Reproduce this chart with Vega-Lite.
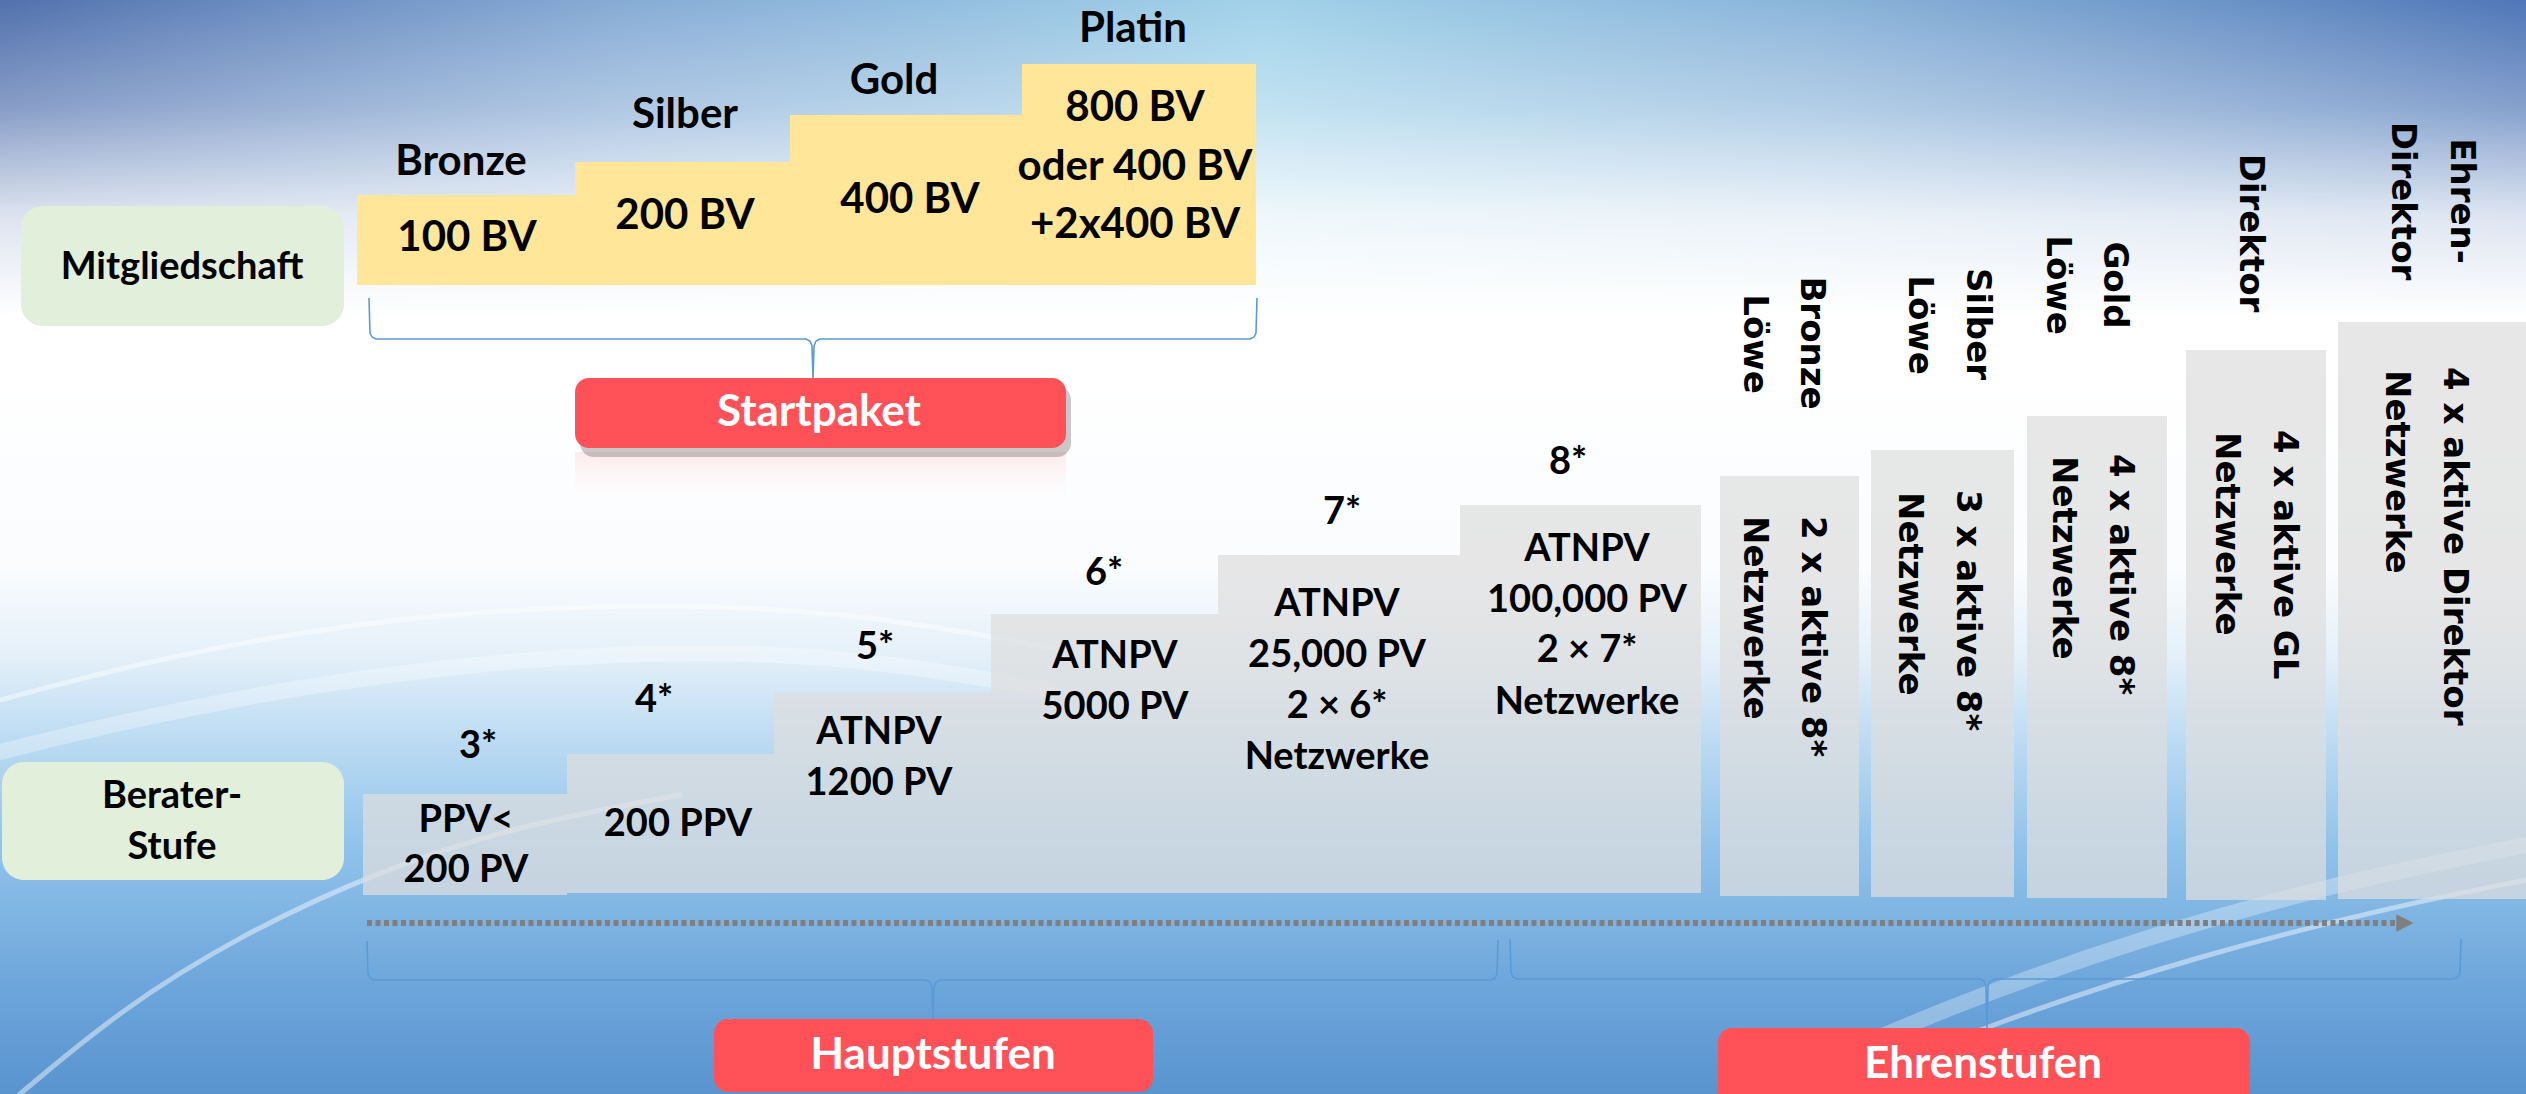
{
"$schema":"https://vega.github.io/schema/vega-lite/v6.json",
"width":2526,"height":1094,"autosize":"none","padding":0,
"background":"#ffffff",
"config":{"view":{"stroke":null},"axis":{"disable":true}},
"datasets":{
"hintergrund":[{"x":0,"x2":2526,"y":0,"y2":1094}],
"oben":[{"x":0,"x2":2526,"y":0,"y2":360}],
"boegen":[
{"k":"breit","b":"A","i":0,"x":0,"y":752},{"k":"breit","b":"A","i":1,"x":120,"y":722},{"k":"breit","b":"A","i":2,"x":300,"y":686},{"k":"breit","b":"A","i":3,"x":500,"y":660},{"k":"breit","b":"A","i":4,"x":700,"y":650},{"k":"breit","b":"A","i":5,"x":880,"y":660},{"k":"breit","b":"A","i":6,"x":1050,"y":690},
{"k":"breit","b":"D","i":0,"x":1750,"y":1094},{"k":"breit","b":"D","i":1,"x":1950,"y":1005},{"k":"breit","b":"D","i":2,"x":2150,"y":935},{"k":"breit","b":"D","i":3,"x":2350,"y":880},{"k":"breit","b":"D","i":4,"x":2526,"y":845},
{"k":"duenn","b":"B","i":0,"x":20,"y":1094},{"k":"duenn","b":"B","i":1,"x":120,"y":1010},{"k":"duenn","b":"B","i":2,"x":240,"y":935},{"k":"duenn","b":"B","i":3,"x":380,"y":870},{"k":"duenn","b":"B","i":4,"x":520,"y":825},{"k":"duenn","b":"B","i":5,"x":680,"y":795},
{"k":"duenn","b":"C","i":0,"x":0,"y":700},{"k":"duenn","b":"C","i":1,"x":150,"y":660},{"k":"duenn","b":"C","i":2,"x":350,"y":622},{"k":"duenn","b":"C","i":3,"x":600,"y":602},{"k":"duenn","b":"C","i":4,"x":850,"y":610},{"k":"duenn","b":"C","i":5,"x":1060,"y":650},
{"k":"duenn","b":"E","i":0,"x":1820,"y":1094},{"k":"duenn","b":"E","i":1,"x":2000,"y":1020},{"k":"duenn","b":"E","i":2,"x":2200,"y":955},{"k":"duenn","b":"E","i":3,"x":2400,"y":905},{"k":"duenn","b":"E","i":4,"x":2526,"y":880}],
"seitenboxen":[{"name":"Mitgliedschaft","x":21,"x2":344,"y":206,"y2":326},{"name":"Berater-Stufe","x":2,"x2":344,"y":762,"y2":880}],
"mitgliedschaft":[
{"stufe":"Bronze","x":357,"x2":575,"y":195,"y2":285},
{"stufe":"Silber","x":575,"x2":790,"y":162,"y2":285},
{"stufe":"Gold","x":790,"x2":1022,"y":115,"y2":285},
{"stufe":"Platin","x":1022,"x2":1256,"y":64,"y2":285}],
"schatten":[{"x":580,"x2":1071,"y":386,"y2":457}],
"spiegel":[{"x":575,"x2":1066,"y":452,"y2":505}],
"rote":[
{"name":"Startpaket","x":575,"x2":1066,"y":378,"y2":448},
{"name":"Hauptstufen","x":714,"x2":1153,"y":1019,"y2":1092},
{"name":"Ehrenstufen","x":1718,"x2":2250,"y":1028,"y2":1110}],
"stufen":[
{"stufe":"3*","x":363,"x2":567,"y":794,"y2":895},
{"stufe":"4*","x":567,"x2":774,"y":754,"y2":893},
{"stufe":"5*","x":774,"x2":991,"y":693,"y2":893},
{"stufe":"6*","x":991,"x2":1218,"y":614,"y2":893},
{"stufe":"7*","x":1218,"x2":1460,"y":555,"y2":893},
{"stufe":"8*","x":1460,"x2":1701,"y":505,"y2":893},
{"stufe":"Bronze Löwe","x":1720,"x2":1859,"y":476,"y2":896},
{"stufe":"Silber Löwe","x":1871,"x2":2014,"y":450,"y2":897},
{"stufe":"Gold Löwe","x":2027,"x2":2167,"y":416,"y2":898},
{"stufe":"Direktor","x":2186,"x2":2326,"y":350,"y2":900},
{"stufe":"Ehren-Direktor","x":2338,"x2":2526,"y":322,"y2":899}],
"pfeil":[{"k":"a","i":0,"x":367,"y":923},{"k":"a","i":1,"x":2398,"y":923}],
"pfeilspitze":[{"x":2405,"y":923}],
"klammern":[
{"k":"start","i":0,"x":369,"y":298},{"k":"start","i":1,"x":370,"y":333},{"k":"start","i":2,"x":372,"y":337},{"k":"start","i":3,"x":376,"y":339},{"k":"start","i":4,"x":806,"y":339},{"k":"start","i":5,"x":810,"y":341},{"k":"start","i":6,"x":812,"y":346},{"k":"start","i":7,"x":813,"y":378},{"k":"start","i":8,"x":814,"y":346},{"k":"start","i":9,"x":816,"y":341},{"k":"start","i":10,"x":820,"y":339},{"k":"start","i":11,"x":1250,"y":339},{"k":"start","i":12,"x":1254,"y":337},{"k":"start","i":13,"x":1256,"y":333},{"k":"start","i":14,"x":1257,"y":298},
{"k":"haupt","i":0,"x":367,"y":941},{"k":"haupt","i":1,"x":368,"y":974},{"k":"haupt","i":2,"x":370,"y":978},{"k":"haupt","i":3,"x":374,"y":980},{"k":"haupt","i":4,"x":926,"y":980},{"k":"haupt","i":5,"x":930,"y":982},{"k":"haupt","i":6,"x":932,"y":987},{"k":"haupt","i":7,"x":933,"y":1019},{"k":"haupt","i":8,"x":934,"y":987},{"k":"haupt","i":9,"x":936,"y":982},{"k":"haupt","i":10,"x":940,"y":980},{"k":"haupt","i":11,"x":1491,"y":980},{"k":"haupt","i":12,"x":1495,"y":978},{"k":"haupt","i":13,"x":1497,"y":974},{"k":"haupt","i":14,"x":1498,"y":940},
{"k":"ehren","i":0,"x":1510,"y":939},{"k":"ehren","i":1,"x":1511,"y":973},{"k":"ehren","i":2,"x":1513,"y":977},{"k":"ehren","i":3,"x":1517,"y":979},{"k":"ehren","i":4,"x":1980,"y":979},{"k":"ehren","i":5,"x":1984,"y":981},{"k":"ehren","i":6,"x":1986,"y":986},{"k":"ehren","i":7,"x":1987,"y":1028},{"k":"ehren","i":8,"x":1988,"y":986},{"k":"ehren","i":9,"x":1990,"y":981},{"k":"ehren","i":10,"x":1994,"y":979},{"k":"ehren","i":11,"x":2454,"y":979},{"k":"ehren","i":12,"x":2458,"y":977},{"k":"ehren","i":13,"x":2460,"y":973},{"k":"ehren","i":14,"x":2461,"y":939}],
"texte":[
{"k":"mem","t":"Bronze","x":461,"y":162},
{"k":"mem","t":"Silber","x":685,"y":115},
{"k":"mem","t":"Gold","x":894,"y":81},
{"k":"mem","t":"Platin","x":1133,"y":29},
{"k":"mem","t":"100 BV","x":467,"y":238},
{"k":"mem","t":"200 BV","x":685,"y":216},
{"k":"mem","t":"400 BV","x":910,"y":200},
{"k":"mem","t":"800 BV","x":1135,"y":108},
{"k":"mem","t":"oder 400 BV","x":1135,"y":167},
{"k":"mem","t":"+2x400 BV","x":1135,"y":225},
{"k":"step","t":"3*","x":478,"y":747},
{"k":"step","t":"PPV<","x":466,"y":821},
{"k":"step","t":"200 PV","x":466,"y":871},
{"k":"step","t":"4*","x":654,"y":701},
{"k":"step","t":"200 PPV","x":678,"y":825},
{"k":"step","t":"5*","x":875,"y":648},
{"k":"step","t":"ATNPV","x":879,"y":733},
{"k":"step","t":"1200 PV","x":879,"y":784},
{"k":"step","t":"6*","x":1104,"y":574},
{"k":"step","t":"ATNPV","x":1115,"y":657},
{"k":"step","t":"5000 PV","x":1115,"y":708},
{"k":"step","t":"7*","x":1342,"y":513},
{"k":"step","t":"ATNPV","x":1337,"y":605},
{"k":"step","t":"25,000 PV","x":1337,"y":656},
{"k":"step","t":"2 × 6*","x":1337,"y":707},
{"k":"step","t":"Netzwerke","x":1337,"y":758},
{"k":"step","t":"8*","x":1568,"y":463},
{"k":"step","t":"ATNPV","x":1587,"y":550},
{"k":"step","t":"100,000 PV","x":1587,"y":601},
{"k":"step","t":"2 × 7*","x":1587,"y":651},
{"k":"step","t":"Netzwerke","x":1587,"y":703},
{"k":"side","t":"Mitgliedschaft","x":182,"y":268},
{"k":"side","t":"Berater-","x":172,"y":797},
{"k":"side","t":"Stufe","x":172,"y":848},
{"k":"red","t":"Startpaket","x":819,"y":413},
{"k":"red","t":"Hauptstufen","x":933,"y":1056},
{"k":"red","t":"Ehrenstufen","x":1983,"y":1065},
{"k":"vtitle","t":"Bronze","x":1801,"y":343},
{"k":"vtitle","t":"Löwe","x":1744,"y":344},
{"k":"vtitle","t":"Silber","x":1967,"y":324},
{"k":"vtitle","t":"Löwe","x":1909,"y":325},
{"k":"vtitle","t":"Gold","x":2104,"y":285},
{"k":"vtitle","t":"Löwe","x":2047,"y":285},
{"k":"vtitle","t":"Direktor","x":2240,"y":233},
{"k":"vtitle","t":"Ehren-","x":2451,"y":201},
{"k":"vtitle","t":"Direktor","x":2392,"y":201},
{"k":"vbody","t":"2 x aktive 8*","x":1802,"y":516},
{"k":"vbody","t":"Netzwerke","x":1744,"y":516},
{"k":"vbody","t":"3 x aktive 8*","x":1957,"y":490},
{"k":"vbody","t":"Netzwerke","x":1899,"y":492},
{"k":"vbody","t":"4 x aktive 8*","x":2110,"y":454},
{"k":"vbody","t":"Netzwerke","x":2053,"y":456},
{"k":"vbody","t":"4 x aktive GL","x":2274,"y":430},
{"k":"vbody","t":"Netzwerke","x":2216,"y":432},
{"k":"vbody","t":"4 x aktive Direktor","x":2444,"y":367},
{"k":"vbody","t":"Netzwerke","x":2386,"y":370}]
},
"encoding":{
"x":{"field":"x","type":"quantitative","scale":{"domain":[0,2526],"nice":false,"zero":false},"axis":null},
"y":{"field":"y","type":"quantitative","scale":{"domain":[0,1094],"nice":false,"zero":false,"reverse":true},"axis":null}
},
"layer":[
{"data":{"name":"hintergrund"},"mark":{"type":"rect","color":{"gradient":"linear","x1":0,"y1":0,"x2":0,"y2":1,"stops":[
{"offset":0,"color":"#A6C1E0"},{"offset":0.25,"color":"#EEF4FA"},{"offset":0.33,"color":"#FFFFFF"},{"offset":0.52,"color":"#FAFCFE"},{"offset":0.6,"color":"#E4F0F9"},{"offset":0.67,"color":"#BFDDF3"},{"offset":0.77,"color":"#92C4EB"},{"offset":0.9,"color":"#6DA6DB"},{"offset":1,"color":"#5A94CF"}]}},
"encoding":{"x2":{"field":"x2"},"y2":{"field":"y2"}}},
{"data":{"name":"oben"},"mark":{"type":"rect","color":{"gradient":"linear","x1":0,"y1":0,"x2":1,"y2":0,"stops":[
{"offset":0,"color":"rgba(72,104,168,0.9)"},{"offset":0.25,"color":"rgba(125,165,210,0.75)"},{"offset":0.5,"color":"rgba(160,214,236,0.8)"},{"offset":0.72,"color":"rgba(130,175,215,0.75)"},{"offset":1,"color":"rgba(70,110,178,0.9)"}]}},
"encoding":{"x2":{"field":"x2"},"y2":{"field":"y2"}}},
{"data":{"name":"oben"},"mark":{"type":"rect","color":{"gradient":"linear","x1":0,"y1":0,"x2":0,"y2":1,"stops":[
{"offset":0,"color":"rgba(255,255,255,0)"},{"offset":0.3,"color":"rgba(255,255,255,0.3)"},{"offset":0.6,"color":"rgba(255,255,255,0.8)"},{"offset":0.88,"color":"rgba(255,255,255,1)"},{"offset":1,"color":"rgba(255,255,255,1)"}]}},
"encoding":{"x2":{"field":"x2"},"y2":{"field":"y2"}}},
{"data":{"name":"boegen"},"transform":[{"filter":{"field":"k","equal":"breit"}}],"mark":{"type":"line","interpolate":"basis","color":"#FFFFFF","opacity":0.3,"strokeWidth":16,"strokeCap":"round"},
"encoding":{"order":{"field":"i","type":"quantitative"},"detail":{"field":"b"}}},
{"data":{"name":"boegen"},"transform":[{"filter":{"field":"k","equal":"duenn"}}],"mark":{"type":"line","interpolate":"basis","color":"#FFFFFF","opacity":0.45,"strokeWidth":5,"strokeCap":"round"},
"encoding":{"order":{"field":"i","type":"quantitative"},"detail":{"field":"b"}}},
{"data":{"name":"seitenboxen"},"mark":{"type":"rect","color":"#E2EFDA","cornerRadius":22},
"encoding":{"x2":{"field":"x2"},"y2":{"field":"y2"}}},
{"data":{"name":"mitgliedschaft"},"mark":{"type":"rect","color":"#FFE699"},
"encoding":{"x2":{"field":"x2"},"y2":{"field":"y2"}}},
{"data":{"name":"klammern"},"mark":{"type":"line","color":"#5B9BD5","strokeWidth":1.6},
"encoding":{"order":{"field":"i","type":"quantitative"},"detail":{"field":"k"}}},
{"data":{"name":"spiegel"},"mark":{"type":"rect","color":{"gradient":"linear","x1":0,"y1":0,"x2":0,"y2":1,"stops":[{"offset":0,"color":"rgba(255,110,115,0.14)"},{"offset":1,"color":"rgba(255,255,255,0)"}]}},
"encoding":{"x2":{"field":"x2"},"y2":{"field":"y2"}}},
{"data":{"name":"schatten"},"mark":{"type":"rect","color":"#5a4a4a","opacity":0.3,"cornerRadius":14},
"encoding":{"x2":{"field":"x2"},"y2":{"field":"y2"}}},
{"data":{"name":"rote"},"mark":{"type":"rect","color":"#FF5157","cornerRadius":14},
"encoding":{"x2":{"field":"x2"},"y2":{"field":"y2"}}},
{"data":{"name":"stufen"},"mark":{"type":"rect","color":"#DEDEDE","opacity":0.72},
"encoding":{"x2":{"field":"x2"},"y2":{"field":"y2"}}},
{"data":{"name":"pfeil"},"mark":{"type":"line","color":"#7F7F7F","strokeWidth":6,"strokeDash":[5,3.5]},
"encoding":{"order":{"field":"i","type":"quantitative"}}},
{"data":{"name":"pfeilspitze"},"mark":{"type":"point","shape":"M -1 -1 L 1 0 L -1 1 Z","size":300,"filled":true,"color":"#7F7F7F","opacity":1}},
{"data":{"name":"texte"},"transform":[{"filter":{"field":"k","equal":"mem"}}],
"mark":{"type":"text","font":"Lato","fontWeight":"bold","fontSize":42,"color":"#000000","align":"center","baseline":"middle"},
"encoding":{"text":{"field":"t"}}},
{"data":{"name":"texte"},"transform":[{"filter":{"field":"k","equal":"step"}}],
"mark":{"type":"text","font":"Lato","fontWeight":"bold","fontSize":38,"color":"#000000","align":"center","baseline":"middle"},
"encoding":{"text":{"field":"t"}}},
{"data":{"name":"texte"},"transform":[{"filter":{"field":"k","equal":"side"}}],
"mark":{"type":"text","font":"Lato","fontWeight":"bold","fontSize":38,"color":"#000000","align":"center","baseline":"middle"},
"encoding":{"text":{"field":"t"}}},
{"data":{"name":"texte"},"transform":[{"filter":{"field":"k","equal":"red"}}],
"mark":{"type":"text","font":"Lato","fontWeight":"bold","fontSize":44,"color":"#FFFFFF","align":"center","baseline":"middle"},
"encoding":{"text":{"field":"t"}}},
{"data":{"name":"texte"},"transform":[{"filter":{"field":"k","equal":"vtitle"}}],
"mark":{"type":"text","font":"DejaVu Sans","fontWeight":"bold","fontSize":34,"color":"#000000","align":"center","baseline":"alphabetic","angle":90},
"encoding":{"text":{"field":"t"}}},
{"data":{"name":"texte"},"transform":[{"filter":{"field":"k","equal":"vbody"}}],
"mark":{"type":"text","font":"DejaVu Sans","fontWeight":"bold","fontSize":34,"color":"#000000","align":"left","baseline":"alphabetic","angle":90},
"encoding":{"text":{"field":"t"}}}
]
}
